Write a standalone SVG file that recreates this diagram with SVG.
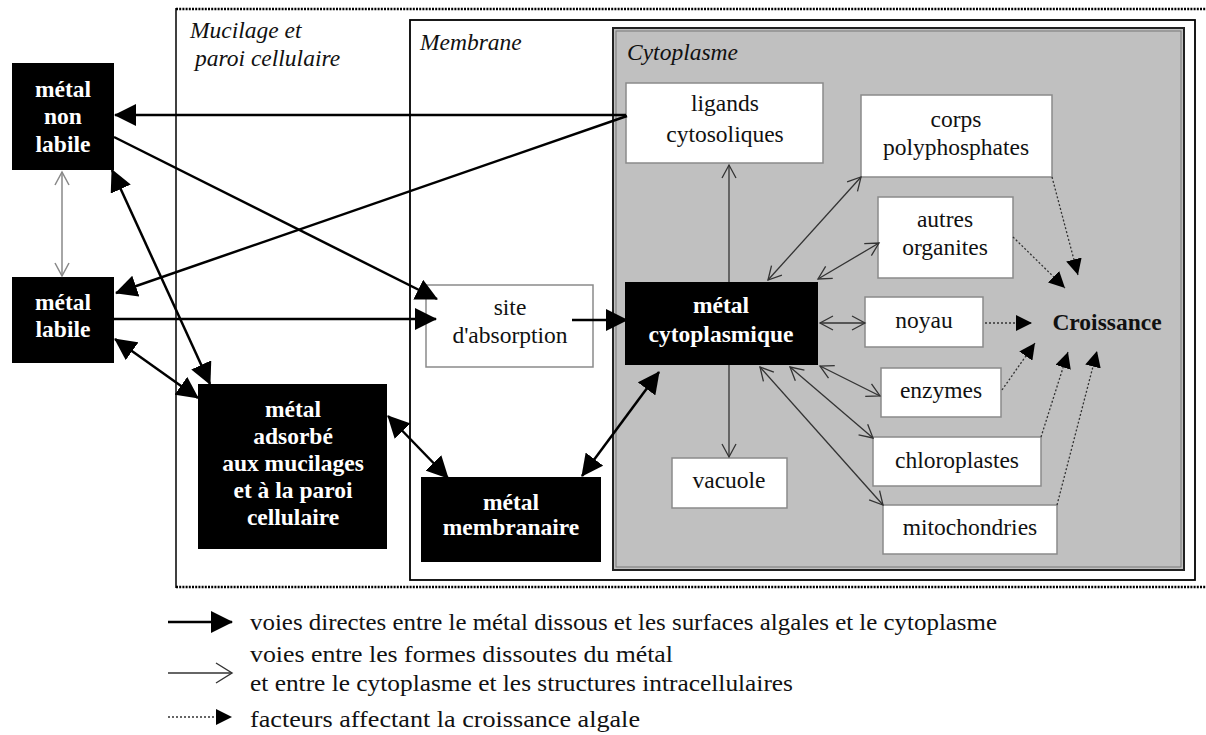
<svg xmlns="http://www.w3.org/2000/svg" width="1206" height="735" viewBox="0 0 1206 735">
<style>
.bx{fill:#000}
.wb{fill:#fff;stroke:#8a8a8a;stroke-width:1.5}
.tw{font-family:"Liberation Serif","DejaVu Serif",serif;font-weight:bold;fill:#fff;font-size:23.5px;text-anchor:middle}
.tb{font-family:"Liberation Serif","DejaVu Serif",serif;fill:#111;font-size:23.5px;text-anchor:middle}
.tl{font-family:"Liberation Serif","DejaVu Serif",serif;fill:#111;font-size:24px}
.ti{font-family:"Liberation Serif","DejaVu Serif",serif;font-style:italic;fill:#111;font-size:23.5px}
.thick{stroke:#000;stroke-width:2.5;fill:none}
.thin{stroke:#333;stroke-width:1.3;fill:none}
.gray{stroke:#888;stroke-width:1.5;fill:none}
.dot{stroke:#333;stroke-width:1.3;stroke-dasharray:2 2;fill:none}
.frame{stroke:#000;stroke-width:2.5;stroke-dasharray:2 1.2;fill:none}
</style>
<defs>
<marker id="fa" markerUnits="userSpaceOnUse" markerWidth="22" markerHeight="22" viewBox="0 0 22 22" refX="21" refY="11" orient="auto-start-reverse"><path d="M0,0 L22,11 L0,22 z" fill="#000"/></marker>
<marker id="oa" markerUnits="userSpaceOnUse" markerWidth="16" markerHeight="16" viewBox="0 0 16 16" refX="14" refY="8" orient="auto-start-reverse"><path d="M1,1 L14,8 L1,15" fill="none" stroke="#333" stroke-width="1.3"/></marker>
<marker id="og" markerUnits="userSpaceOnUse" markerWidth="16" markerHeight="16" viewBox="0 0 16 16" refX="14" refY="8" orient="auto-start-reverse"><path d="M1,1 L14,8 L1,15" fill="none" stroke="#888" stroke-width="1.5"/></marker>
<marker id="ol" markerUnits="userSpaceOnUse" markerWidth="20" markerHeight="22" viewBox="0 0 20 22" refX="17" refY="11" orient="auto"><path d="M1,1 L17,11 L1,21" fill="none" stroke="#333" stroke-width="1.4"/></marker>
<marker id="da" markerUnits="userSpaceOnUse" markerWidth="16" markerHeight="16" viewBox="0 0 16 16" refX="16" refY="8" orient="auto"><path d="M0,0 L16,8 L0,16 z" fill="#000"/></marker>
</defs>

<g id="frames">
<path class="frame" d="M176,9 L1206,9 M176,587 L1206,587"/>
<line x1="176" y1="8" x2="176" y2="588" stroke="#000" stroke-width="1.5"/>
<rect x="410" y="20" width="785" height="560" fill="#fff" stroke="#000" stroke-width="1.8"/>
<rect x="613" y="28" width="571" height="542" fill="#c0c0c0" stroke="#222" stroke-width="2"/>
<rect x="616" y="31" width="565" height="536" fill="none" stroke="#777" stroke-width="1"/>
<text class="ti" x="190" y="38">Mucilage et</text>
<text class="ti" x="195" y="66">paroi cellulaire</text>
<text class="ti" x="420" y="50">Membrane</text>
<text class="ti" x="627" y="60">Cytoplasme</text>
</g>

<g id="n-nonlabile"><rect class="bx" x="12" y="63" width="102" height="107"/>
<text class="tw" x="63" y="97">métal</text><text class="tw" x="63" y="124">non</text><text class="tw" x="63" y="152">labile</text></g>

<g id="n-labile"><rect class="bx" x="12" y="277" width="102" height="86"/>
<text class="tw" x="63" y="310">métal</text><text class="tw" x="63" y="337">labile</text></g>

<g id="n-adsorbe"><rect class="bx" x="198" y="384" width="189" height="165"/>
<text class="tw" x="293" y="417">métal</text><text class="tw" x="293" y="444">adsorbé</text><text class="tw" x="293" y="471">aux mucilages</text><text class="tw" x="293" y="498">et à la paroi</text><text class="tw" x="293" y="525">cellulaire</text></g>

<g id="n-site"><rect class="wb" x="426" y="285" width="167" height="82"/>
<text class="tb" x="510" y="315">site</text><text class="tb" x="510" y="343">d'absorption</text></g>

<g id="n-membranaire"><rect class="bx" x="421" y="477" width="180" height="85"/>
<text class="tw" x="511" y="510">métal</text><text class="tw" x="511" y="535">membranaire</text></g>

<g id="n-cytoplasmique"><rect class="bx" x="625" y="282" width="193" height="83"/>
<text class="tw" x="721" y="313">métal</text><text class="tw" x="721" y="342">cytoplasmique</text></g>

<g id="n-ligands"><rect class="wb" x="626" y="83" width="197" height="80"/>
<text class="tb" x="725" y="111">ligands</text><text class="tb" x="725" y="142">cytosoliques</text></g>

<g id="n-corps"><rect class="wb" x="861" y="95" width="191" height="82"/>
<text class="tb" x="956" y="127">corps</text><text class="tb" x="956" y="155">polyphosphates</text></g>

<g id="n-autres"><rect class="wb" x="878" y="197" width="135" height="81"/>
<text class="tb" x="945" y="227">autres</text><text class="tb" x="945" y="255">organites</text></g>

<g id="n-noyau"><rect class="wb" x="865" y="297" width="118" height="50"/>
<text class="tb" x="924" y="328">noyau</text></g>

<g id="n-enzymes"><rect class="wb" x="881" y="368" width="120" height="49"/>
<text class="tb" x="941" y="398">enzymes</text></g>

<g id="n-chloro"><rect class="wb" x="873" y="437" width="168" height="49"/>
<text class="tb" x="957" y="468">chloroplastes</text></g>

<g id="n-mito"><rect class="wb" x="883" y="505" width="174" height="49"/>
<text class="tb" x="970" y="535">mitochondries</text></g>

<g id="n-vacuole"><rect class="wb" x="672" y="458" width="115" height="50"/>
<text class="tb" x="729" y="488">vacuole</text></g>

<g id="n-croissance"><text class="tw" style="fill:#111" x="1107" y="330">Croissance</text></g>

<g id="connectors">
<line class="thick" x1="626" y1="115" x2="115" y2="115" marker-end="url(#fa)"/>
<line class="thick" x1="627" y1="116" x2="116" y2="293" marker-end="url(#fa)"/>
<line class="thick" x1="114" y1="137" x2="437" y2="299" marker-end="url(#fa)"/>
<line class="thick" x1="114" y1="319" x2="436" y2="319" marker-end="url(#fa)"/>
<line class="thick" x1="572" y1="320" x2="627" y2="320" marker-end="url(#fa)"/>
<line class="thick" x1="112" y1="170" x2="210" y2="384" marker-start="url(#fa)" marker-end="url(#fa)"/>
<line class="thick" x1="115" y1="339" x2="198" y2="398" marker-start="url(#fa)" marker-end="url(#fa)"/>
<line class="thick" x1="388" y1="416" x2="448" y2="478" marker-start="url(#fa)" marker-end="url(#fa)"/>
<line class="thick" x1="582" y1="476" x2="659" y2="372" marker-start="url(#fa)" marker-end="url(#fa)"/>
<line class="gray" x1="62" y1="172" x2="62" y2="276" marker-start="url(#og)" marker-end="url(#og)"/>

<line class="thin" x1="729" y1="282" x2="729" y2="165" marker-end="url(#oa)"/>
<line class="thin" x1="729" y1="365" x2="729" y2="457" marker-end="url(#oa)"/>
<line class="thin" x1="768" y1="280" x2="861" y2="177" marker-start="url(#oa)" marker-end="url(#oa)"/>
<line class="thin" x1="818" y1="279" x2="879" y2="243" marker-start="url(#oa)" marker-end="url(#oa)"/>
<line class="thin" x1="820" y1="323" x2="865" y2="323" marker-start="url(#oa)" marker-end="url(#oa)"/>
<line class="thin" x1="820" y1="366" x2="880" y2="396" marker-start="url(#oa)" marker-end="url(#oa)"/>
<line class="thin" x1="790" y1="367" x2="873" y2="438" marker-start="url(#oa)" marker-end="url(#oa)"/>
<line class="thin" x1="760" y1="367" x2="883" y2="505" marker-start="url(#oa)" marker-end="url(#oa)"/>

<line class="dot" x1="1052" y1="177" x2="1078" y2="275" marker-end="url(#da)"/>
<line class="dot" x1="1013" y1="237" x2="1065" y2="288" marker-end="url(#da)"/>
<line class="dot" x1="985" y1="323" x2="1032" y2="323" marker-end="url(#da)"/>
<line class="dot" x1="1002" y1="390" x2="1035" y2="343" marker-end="url(#da)"/>
<line class="dot" x1="1041" y1="437" x2="1068" y2="352" marker-end="url(#da)"/>
<line class="dot" x1="1057" y1="505" x2="1097" y2="351" marker-end="url(#da)"/>
</g>

<g id="legend">
<line class="thick" x1="168" y1="622" x2="232" y2="622" marker-end="url(#fa)"/>
<line class="thin" x1="168" y1="673" x2="232" y2="673" marker-end="url(#ol)"/>
<line class="dot" x1="168" y1="717" x2="232" y2="717" marker-end="url(#da)"/>
<text class="tl" x="250" y="630" textLength="747" lengthAdjust="spacingAndGlyphs">voies directes entre le métal dissous et les surfaces algales et le cytoplasme</text>
<text class="tl" x="250" y="662" textLength="423" lengthAdjust="spacingAndGlyphs">voies entre les formes dissoutes du métal</text>
<text class="tl" x="250" y="691" textLength="543" lengthAdjust="spacingAndGlyphs">et entre le cytoplasme et les structures intracellulaires</text>
<text class="tl" x="250" y="727" textLength="390" lengthAdjust="spacingAndGlyphs">facteurs affectant la croissance algale</text>
</g>
</svg>
